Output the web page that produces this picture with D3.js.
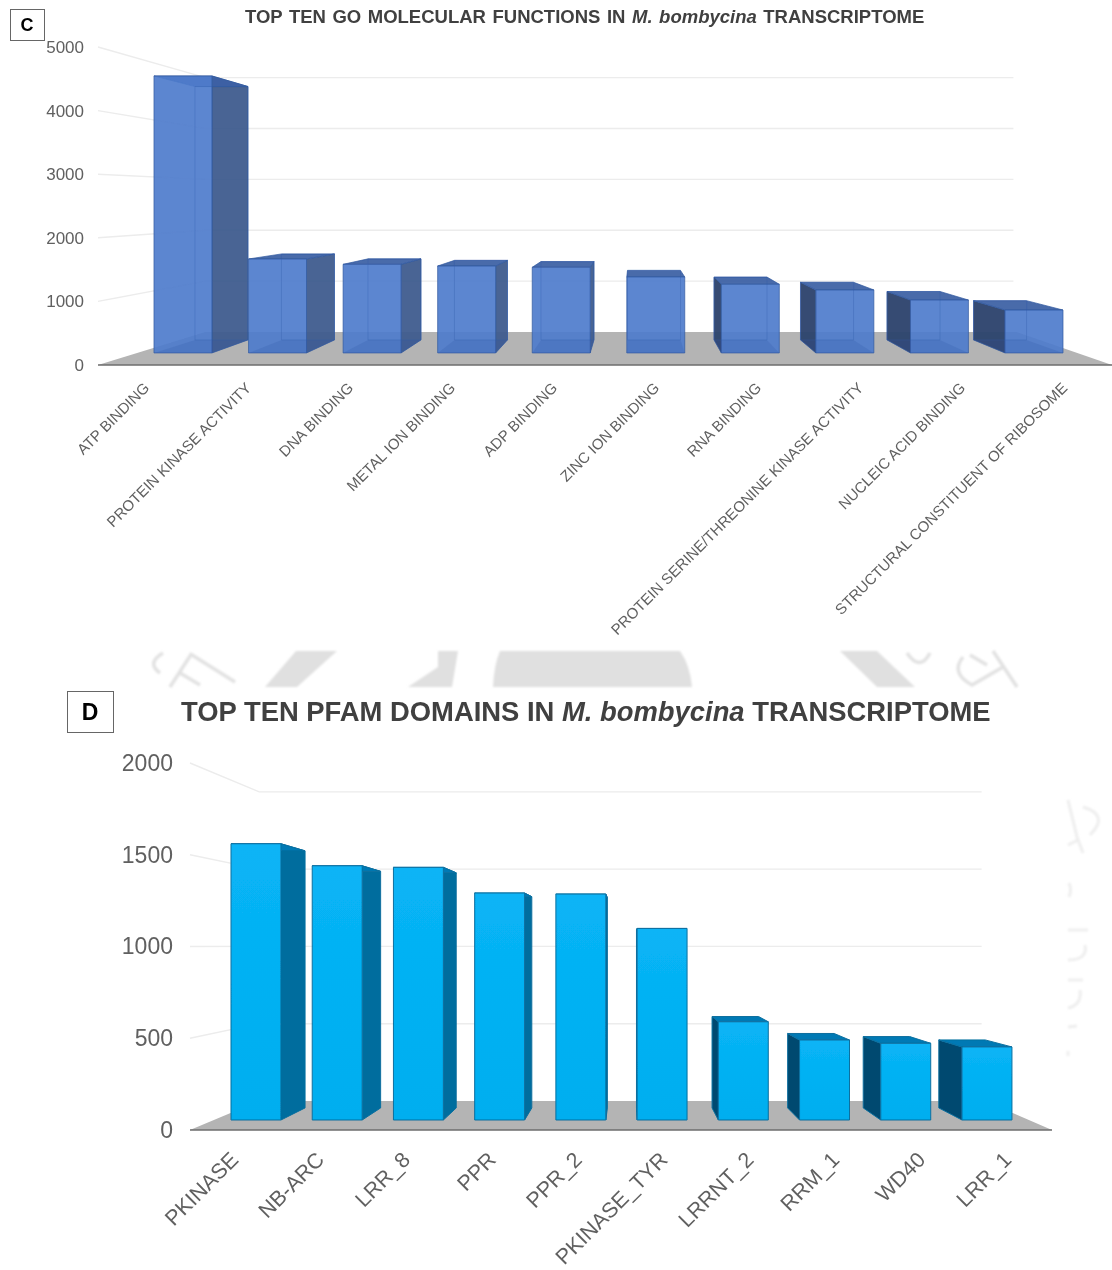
<!DOCTYPE html>
<html><head><meta charset="utf-8">
<script src="https://cdn.jsdelivr.net/npm/d3@7"></script>
<style>
html,body{margin:0;padding:0;background:#fff}
svg{display:block}
text{font-family:"Liberation Sans",Arial,sans-serif}
</style></head><body><svg id="c" width="1112" height="1270"></svg>
<script>
// ---- data ----
const goCategories = ["ATP BINDING","PROTEIN KINASE ACTIVITY","DNA BINDING","METAL ION BINDING","ADP BINDING","ZINC ION BINDING","RNA BINDING","PROTEIN SERINE/THREONINE KINASE ACTIVITY","NUCLEIC ACID BINDING","STRUCTURAL CONSTITUENT OF RIBOSOME"];
const goValues = [4698,1594,1503,1475,1453,1289,1165,1069,898,728];
const goTicks = [0,1000,2000,3000,4000,5000];
const pfamCategories = ["PKINASE","NB-ARC","LRR_8","PPR","PPR_2","PKINASE_TYR","LRRNT_2","RRM_1","WD40","LRR_1"];
const pfamValues = [1592,1465,1456,1308,1302,1104,566,461,442,421];
const pfamTicks = [0,500,1000,1500,2000];

const svg = d3.select("#c");
const defs = svg.append("defs");
defs.append("filter").attr("id","wm").append("feGaussianBlur").attr("stdDeviation",0.9);
defs.append("filter").attr("id","soft").attr("x","-5%").attr("y","-5%").attr("width","110%").attr("height","110%")
  .append("feGaussianBlur").attr("stdDeviation",0.45);
const grad = defs.append("linearGradient").attr("id","dfront").attr("x1",0).attr("x2",0).attr("y1",0).attr("y2",1);
grad.append("stop").attr("offset",0).attr("stop-color","#08b4f6");
grad.append("stop").attr("offset",1).attr("stop-color","#00aeef");

// watermark remnants (decoration behind the charts)
const wm = svg.append("g").attr("filter","url(#wm)");
const wmFill = ["M296,651L337,651L297,687L265,687Z","M438,651L458,651L452,687L408,687L438,667Z",
  "M500,651L680,651Q690,665 692,687L493,687Q494,665 500,651Z","M840,651L877,651L915,687L877,687Z"];
wm.selectAll("path.f").data(wmFill).join("path").attr("class","f").attr("d",d=>d).attr("fill","#e0e0e0");
const wmLine = ["M163,653Q146,663 160,673","M192,653L170,687","M192,655L235,682","M180,673L200,685",
  "M907,653Q920,672 930,653","M993,651L1017,687","M963,657Q950,673 972,685L1003,667","M970,655L987,665"];
wm.selectAll("path.l").data(wmLine).join("path").attr("class","l").attr("d",d=>d).attr("fill","none").attr("stroke","#e2e2e2").attr("stroke-width",3.5);
const wmSide = ["M1068,800L1077,837L1083,853","M1083,807Q1110,815 1090,835","M1068,845L1078,840","M1069,883Q1072,890 1069,897",
  "M1068,930L1088,930","M1085,945Q1088,960 1068,960","M1068,980L1083,980","M1080,990Q1082,1005 1068,1008","M1068,1027L1077,1026","M1068,1051L1068,1056"];
wm.selectAll("path.s").data(wmSide).join("path").attr("class","s").attr("d",d=>d).attr("fill","none").attr("stroke","#eeeeee").attr("stroke-width",3);

function panel(o){
  const g = svg.append("g").attr("filter","url(#soft)");
  const P = (x,y,s)=>[o.vx+s*(x-o.vx), o.vy+s*(y-o.vy)];
  const poly = pts=>"M"+pts.map(p=>p.map(n=>n.toFixed(2)).join(",")).join("L")+"Z";
  const y = d3.scaleLinear().domain(o.yDomain).range([o.y0,o.y1]);
  const x = d3.scaleBand().domain(o.cats).range(o.xRange).paddingInner(o.pad).paddingOuter(0);

  // walls
  const walls = g.append("g").attr("fill","none").attr("stroke","#ececec").attr("stroke-width",1.4);
  o.ticks.filter(t=>t>0).forEach(t=>{
    const a=[o.x0,y(t)], b=P(o.x0,y(t),o.sWall), c=P(o.x1-4,y(t),o.sWall);
    walls.append("path").attr("d",d3.line()([a,b,c]));
  });
  // floor
  g.append("path").attr("d",poly([[o.x0,o.y0],P(o.x0,o.y0,o.sWall),P(o.x1,o.y0,o.sWall),[o.x1,o.y0]])).attr("fill","#b4b4b4");
  g.append("line").attr("x1",o.x0).attr("x2",o.x1).attr("y1",o.y0).attr("y2",o.y0).attr("stroke","#6e6e6e").attr("stroke-width",1.6);

  // bars
  const bars = g.append("g").selectAll("g").data(o.vals).join("g");
  bars.each(function(v,i){
    const b=d3.select(this), l=x(o.cats[i]), r=l+x.bandwidth(), t=y(v), f=o.y0, F=o.sF, B=o.sB;
    const face=(pts,fill,stroke)=>b.append("path").attr("d",poly(pts)).attr("fill",fill).attr("stroke",stroke||"none").attr("stroke-width",1).attr("stroke-linejoin","round");
    if(P(l,t,B)[0]<P(l,t,F)[0]) face([P(l,t,F),P(l,f,F),P(l,f,B),P(l,t,B)],o.left,o.edge);
    if(P(r,t,B)[0]>P(r,t,F)[0]) face([P(r,t,F),P(r,f,F),P(r,f,B),P(r,t,B)],o.right,o.edge);
    face([P(l,t,F),P(r,t,F),P(r,t,B),P(l,t,B)],o.top,o.edge);
    face([P(l,t,F),P(r,t,F),P(r,f,F),P(l,f,F)],o.front,o.edge);
    if(o.glass){
      face([P(l,f,F),P(r,f,F),P(r,f,B),P(l,f,B)],o.bottom);
      face([P(l,t,B),P(r,t,B),P(r,f,B),P(l,f,B)],"none",o.inner);
    }
  });

  // value axis
  const ax = g.append("g").attr("transform",`translate(${o.labelX},0)`).call(d3.axisLeft(y).tickValues(o.ticks).tickFormat(d3.format("d")).tickSize(0).tickPadding(0));
  ax.select(".domain").remove();
  ax.selectAll("text").attr("font-size",o.tickFont).attr("fill","#606060").style("font-family",'"Liberation Sans",Arial,sans-serif');

  // category axis
  const cx = g.append("g").attr("transform",`translate(0,${o.y0})`).call(d3.axisBottom(x).tickSize(0).tickPadding(0));
  cx.select(".domain").remove();
  cx.selectAll("text").attr("font-size",o.catFont).attr("fill","#606060").style("font-family",'"Liberation Sans",Arial,sans-serif')
    .attr("text-anchor","end").attr("dy",null).attr("y",null)
    .attr("transform",`translate(${o.catDx},${o.catDy}) rotate(-45)`).attr("dominant-baseline","middle");

  // title
  const tt = g.append("text").attr("x",o.titleX).attr("y",o.titleY).attr("font-size",o.titleFont).attr("font-weight","bold").attr("fill","#404040").attr("word-spacing",o.titleWs);
  tt.append("tspan").text(o.title[0]);
  tt.append("tspan").attr("font-style","italic").text(o.title[1]);
  tt.append("tspan").text(o.title[2]);

  // panel tag
  g.append("rect").attr("x",o.box[0]+.5).attr("y",o.box[1]+.5).attr("width",o.box[2]).attr("height",o.box[3]).attr("fill","#fff").attr("stroke","#666").attr("stroke-width",1);
  g.append("text").attr("x",o.box[0]+o.box[2]/2).attr("y",o.box[1]+o.box[3]/2+o.tagFont*.36).attr("text-anchor","middle").attr("font-size",o.tagFont).attr("font-weight","bold").attr("fill","#000").text(o.tag);
}

panel({cats:goCategories,vals:goValues,ticks:goTicks,yDomain:[0,5000],
  vx:635,vy:200,y0:365,y1:47,x0:98,x1:1112,sWall:.8,sF:.927,sB:.848,xRange:[116.1,1096.7],pad:.387,
  labelX:84,tickFont:17,catFont:15,catDx:0,catDy:21,
  glass:true,front:"rgba(78,124,204,.92)",left:"rgba(44,66,108,.95)",right:"rgba(62,92,142,.95)",top:"rgba(62,98,165,.95)",bottom:"rgba(50,85,165,.2)",edge:"rgba(50,90,160,.7)",inner:"rgba(50,90,170,.3)",
  title:["TOP TEN GO MOLECULAR FUNCTIONS IN ","M. bombycina"," TRANSCRIPTOME"],titleX:245,titleY:23,titleFont:18.5,titleWs:1.4,
  box:[10,9,34,31],tag:"C",tagFont:18});

panel({cats:pfamCategories,vals:pfamValues,ticks:pfamTicks,yDomain:[0,2000],
  vx:628,vy:946,y0:1130,y1:763,x0:190,x1:1052,sWall:.842,sF:.9457,sB:.88,xRange:[208.2,1034],pad:.385,
  labelX:173,tickFont:23,catFont:21.5,catDx:1,catDy:27,
  glass:false,front:"url(#dfront)",left:"#00486f",right:"#006d9e",top:"#0079b4",edge:"#0a6f9f",
  title:["TOP TEN PFAM DOMAINS IN ","M. bombycina"," TRANSCRIPTOME"],titleX:181,titleY:721,titleFont:27.4,titleWs:0,
  box:[67,691,46,41],tag:"D",tagFont:23});
</script></body></html>
